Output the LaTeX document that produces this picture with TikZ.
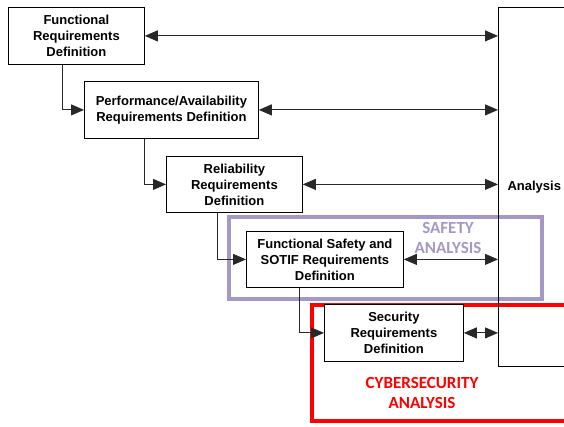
\documentclass[tikz,border=0pt]{standalone}
\usepackage{fontspec}
\setmainfont{Liberation Sans}
\newfontfamily\zonefont{Carlito}
\usetikzlibrary{arrows.meta,calc}
\definecolor{safetypurple}{RGB}{166,152,196}
\definecolor{securityred}{RGB}{255,0,0}
\definecolor{linegray}{RGB}{40,40,40}
\begin{document}
\begin{tikzpicture}[x=1pt,y=-1pt,
  reqbox/.style={draw=black,line width=0.8pt,fill=white,align=center,
    font=\bfseries\fontsize{13}{16}\selectfont,inner sep=0pt,anchor=north west},
  tip/.tip={Triangle[length=13pt,width=11pt]},
  flow/.style={draw=linegray,line width=0.9pt,-tip},
  link/.style={draw=linegray,line width=0.9pt,tip-tip},
  zonelabel/.style={font=\zonefont\bfseries\fontsize{17}{20}\selectfont,align=center}
]
\useasboundingbox (0,0) rectangle (564,426);
\clip (0,0) rectangle (564,426);

% shaded analysis zones
\draw[safetypurple,line width=3.2pt] (229,217) rectangle (542,299);
\draw[securityred,line width=3.6pt] (312,305) rectangle (620,421);

% analysis column
\node[draw=black,line width=0.8pt,anchor=north west,minimum width=120pt,
  minimum height=359pt,inner sep=0pt] (ana) at (498,7) {};
\node[font=\bfseries\fontsize{13}{15}\selectfont,anchor=west] (analabel) at (504,187) {Analysis};

% requirement boxes
\node[reqbox,minimum width=136pt,minimum height=57pt] (f1) at (8,7)
  {Functional\\Requirements\\Definition};
\node[reqbox,minimum width=174pt,minimum height=57pt] (f2) at (84,81)
  {Performance/Availability\\Requirements Definition};
\node[reqbox,minimum width=136pt,minimum height=56pt] (f3) at (166,156)
  {Reliability\\Requirements\\Definition};
\node[reqbox,minimum width=157pt,minimum height=56pt] (f4) at (246,231)
  {Functional Safety and\\SOTIF Requirements\\Definition};
\node[reqbox,minimum width=139pt,minimum height=57pt] (f5) at (324,304)
  {Security\\Requirements\\Definition};

% zone labels
\node[zonelabel,text=safetypurple] (safelabel) at (448,238) {SAFETY\\ANALYSIS};
\node[zonelabel,text=securityred] (seclabel) at (422,393) {CYBERSECURITY\\ANALYSIS};

% cascade between definitions
\draw[flow] ([xshift=-14pt]f1.south) |- (f2.west);
\draw[flow] ([xshift=-27pt]f2.south) |- (f3.west);
\draw[flow] ([xshift=-17pt]f3.south) |- (f4.west);
\draw[flow] ([xshift=-25.5pt]f4.south) |- (f5.west);

% exchange with analysis
\draw[link] (f1.east) -- (f1.east -| ana.west);
\draw[link] (f2.east) -- (f2.east -| ana.west);
\draw[link] (f3.east) -- (f3.east -| ana.west);
\draw[link] (f4.east) -- (f4.east -| ana.west);
\draw[link] (f5.east) -- (f5.east -| ana.west);
\end{tikzpicture}
\end{document}
